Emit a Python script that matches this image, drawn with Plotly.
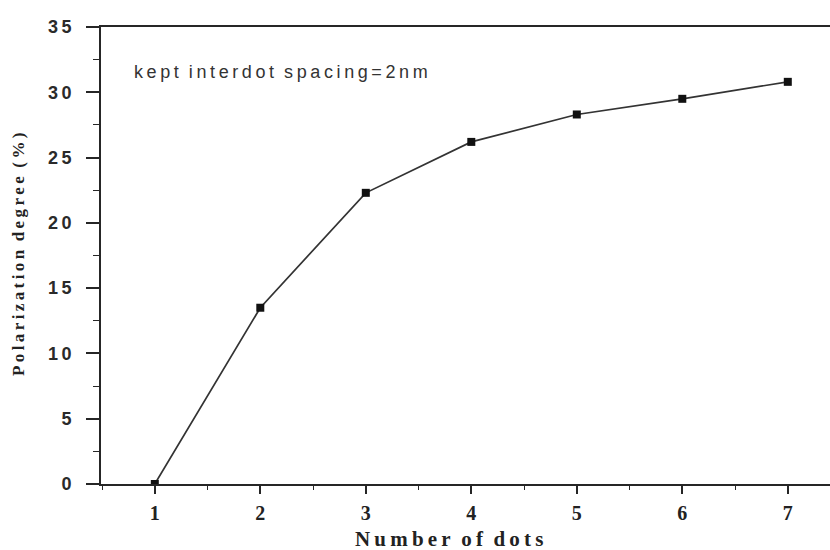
import plotly.graph_objects as go

# Number of dots vs. polarization degree (interdot spacing fixed at 2 nm)
dots = [1, 2, 3, 4, 5, 6, 7]
polarization = [0.0, 13.5, 22.3, 26.2, 28.3, 29.5, 30.8]
y_ticks = [0, 5, 10, 15, 20, 25, 30, 35]
x_ticks = [1, 2, 3, 4, 5, 6, 7]

TS = "\u2009"    # thin space used for letter tracking
WS = "\u00a0\u00a0"  # word gap


def tracked(s):
    return WS.join(TS.join(list(w)) for w in s.split(" "))


AX = "#262626"

fig = go.Figure()
fig.add_trace(go.Scatter(
    x=dots, y=polarization, mode="lines+markers",
    line=dict(color="#333333", width=1.7),
    marker=dict(symbol="square", size=8, color="#111111"),
    showlegend=False,
))

fig.update_layout(
    width=830, height=550,
    margin=dict(l=101, r=0, t=27, b=66),
    paper_bgcolor="white", plot_bgcolor="white",
    xaxis=dict(
        range=[0.49, 7.40], tickvals=x_ticks,
        ticktext=["<b>%d</b>" % v for v in x_ticks],
        showgrid=False, zeroline=False,
        showline=True, linecolor=AX, linewidth=1.7, mirror=True,
        ticks="outside", ticklen=8, tickwidth=1.6, tickcolor=AX,
        minor=dict(ticks="outside", ticklen=4, tickwidth=1.3,
                   tickcolor=AX, dtick=0.5, tick0=0.5),
        tickfont=dict(family="Liberation Serif", size=20, color="#222222"),
        ticklabelstandoff=2,
    ),
    yaxis=dict(
        range=[0, 35], tickvals=y_ticks,
        ticktext=["<b>" + tracked(str(v)) + "</b>" for v in y_ticks],
        showgrid=False, zeroline=False,
        showline=True, linecolor=AX, linewidth=1.7,
        ticks="outside", ticklen=13, tickwidth=1.6, tickcolor=AX,
        minor=dict(ticks="outside", ticklen=6, tickwidth=1.3,
                   tickcolor=AX, dtick=2.5),
        tickfont=dict(family="Liberation Sans", size=18, color="#2a2a2a"),
        ticklabelstandoff=11,
    ),
)

fig.add_annotation(
    text="<b>" + tracked("Number of dots") + "</b>",
    xref="paper", yref="paper", x=0.477, y=-0.12,
    xanchor="center", yanchor="middle", showarrow=False,
    font=dict(family="Liberation Serif", size=21, color="#222222"),
)
fig.add_annotation(
    text="<b>" + tracked("Polarization degree (%)") + "</b>",
    xref="paper", yref="paper", x=-0.114, y=0.503, textangle=-90,
    xanchor="center", yanchor="middle", showarrow=False,
    font=dict(family="Liberation Serif", size=17, color="#222222"),
)
fig.add_annotation(
    text=tracked("kept interdot spacing=2nm"),
    xref="paper", yref="paper", x=0.043, y=0.901,
    xanchor="left", yanchor="middle", showarrow=False,
    font=dict(family="Liberation Sans", size=18, color="#333333"),
)

fig.write_html("out.html")
